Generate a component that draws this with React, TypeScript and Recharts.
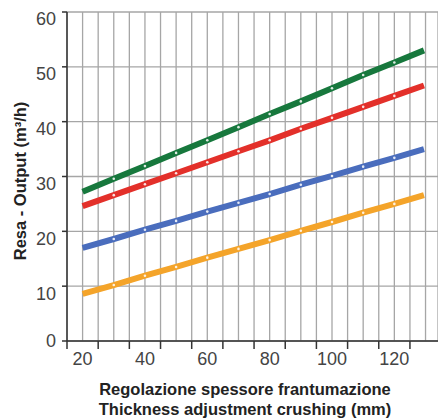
import { LineChart, Line, XAxis, YAxis, CartesianGrid, Label } from 'recharts'

const X_POINTS = [20, 30, 40, 50, 60, 70, 80, 90, 100, 110, 120, 129.5]
const GREEN_OUT  = [27.2, 29.6, 31.9, 34.3, 36.6, 39.0, 41.4, 43.7, 46.1, 48.5, 50.8, 53.0]
const RED_OUT    = [24.6, 26.6, 28.6, 30.6, 32.6, 34.6, 36.6, 38.7, 40.7, 42.7, 44.7, 46.6]
const BLUE_OUT   = [17.0, 18.6, 20.3, 21.9, 23.6, 25.2, 26.8, 28.5, 30.1, 31.8, 33.4, 35.0]
const ORANGE_OUT = [8.6, 10.2, 11.9, 13.5, 15.2, 16.8, 18.4, 20.1, 21.7, 23.4, 25.0, 26.6]

const DOT_X = [30, 40, 50, 60, 70, 80, 90, 100, 110, 120]
const X_TICKS = [15, 20, 25, 30, 35, 40, 45, 50, 55, 60, 65, 70, 75, 80, 85, 90, 95, 100, 105, 110, 115, 120, 125, 130]
const X_LABELS = [20, 40, 60, 80, 100, 120]
const X_TICK_MARKS = [15, 25, 35, 45, 55, 65, 75, 85, 95, 105, 115, 125]
const Y_TICKS = [0, 10, 20, 30, 40, 50, 60]

const GREEN  = '#17783d'
const RED    = '#e3302a'
const BLUE   = '#4a6dbd'
const ORANGE = '#f4a42a'
const FONT = '"Liberation Sans", Arial, sans-serif'

const data = X_POINTS.map((x, i) => ({
  x,
  green: GREEN_OUT[i],
  red: RED_OUT[i],
  blue: BLUE_OUT[i],
  orange: ORANGE_OUT[i],
}))

function WhiteDot(props: any) {
  const { cx, cy, payload, index } = props
  if (!DOT_X.includes(payload.x)) return <g key={index} />
  return <circle key={index} cx={cx} cy={cy} r={1.3} fill="#fff" fillOpacity={0.85} />
}

function XTick(props: any) {
  const { x, y, payload } = props
  const v = payload.value
  return (
    <g>
      {X_TICK_MARKS.includes(v) && <line x1={x} y1={y} x2={x} y2={y + 8} stroke="#333" strokeWidth={1.5} />}
      {X_LABELS.includes(v) && (
        <text x={x} y={y + 24} textAnchor="middle" fontSize={18} fontFamily={FONT} fill="#444">{v}</text>
      )}
    </g>
  )
}

function YTick(props: any) {
  const { x, y, payload } = props
  const v = payload.value
  return (
    <g>
      <line x1={x - 5} y1={y} x2={x} y2={y} stroke="#333" strokeWidth={1.5} />
      <text x={x - 11} y={y + (v === 0 ? 0 : 7)} dy="0.36em" textAnchor="end" fontSize={18} fontFamily={FONT} fill="#444">{v}</text>
    </g>
  )
}

function XTitle() {
  return (
    <g fontFamily={FONT} fontWeight="bold" fontSize={16.5} fill="#222">
      <text x={245} y={395} textAnchor="middle">Regolazione spessore frantumazione</text>
      <text x={245} y={415} textAnchor="middle">Thickness adjustment crushing (mm)</text>
    </g>
  )
}

function YTitle() {
  return (
    <text
      transform="translate(20,181) rotate(-90)"
      textAnchor="middle"
      dominantBaseline="central"
      fontFamily={FONT}
      fontWeight="bold"
      fontSize={16.5}
      fill="#222"
    >
      Resa - Output (m³/h)
    </text>
  )
}

export default function App() {
  return (
    <div style={{ position: 'absolute', left: 0, top: 0, width: 438, height: 418, background: '#fff' }}>
      <LineChart width={438} height={418} data={data} margin={{ top: 12, right: 0, bottom: 0, left: 0 }}>
        <CartesianGrid stroke="#a6a6a6" strokeWidth={1.3} />
        <XAxis
          dataKey="x"
          type="number"
          domain={[15, 134]}
          ticks={X_TICKS}
          interval={0}
          allowDataOverflow
          height={77}
          tickSize={0}
          tickMargin={0}
          tickLine={false}
          tick={<XTick />}
          axisLine={{ stroke: '#333', strokeWidth: 1.5 }}
        >
          <Label content={<XTitle />} />
        </XAxis>
        <YAxis
          type="number"
          domain={[0, 60]}
          ticks={Y_TICKS}
          interval={0}
          width={67}
          tickSize={0}
          tickMargin={0}
          tickLine={false}
          tick={<YTick />}
          axisLine={{ stroke: '#333', strokeWidth: 1.5 }}
        >
          <Label content={<YTitle />} />
        </YAxis>
        <Line dataKey="orange" type="linear" stroke={ORANGE} strokeWidth={6} dot={<WhiteDot />} activeDot={false} isAnimationActive={false} />
        <Line dataKey="blue" type="linear" stroke={BLUE} strokeWidth={6} dot={<WhiteDot />} activeDot={false} isAnimationActive={false} />
        <Line dataKey="red" type="linear" stroke={RED} strokeWidth={6} dot={<WhiteDot />} activeDot={false} isAnimationActive={false} />
        <Line dataKey="green" type="linear" stroke={GREEN} strokeWidth={6} dot={<WhiteDot />} activeDot={false} isAnimationActive={false} />
      </LineChart>
    </div>
  )
}
